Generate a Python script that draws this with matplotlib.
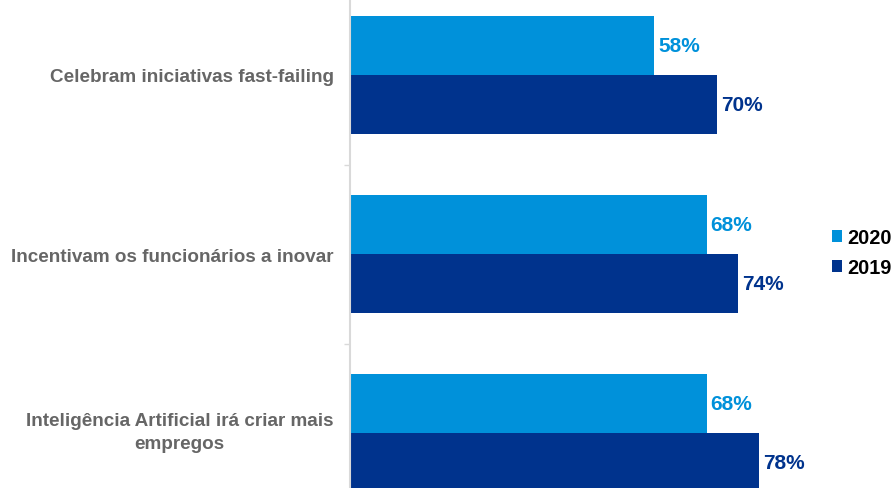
import matplotlib
matplotlib.use('Agg')
import matplotlib.pyplot as plt
import numpy as np

plt.rcParams['font.family'] = ['Liberation Sans', 'DejaVu Sans']

categories = ['Celebram iniciativas fast-failing',
              'Incentivam os funcionários a inovar',
              'Inteligência Artificial irá criar mais\nempregos']
v2020 = [58, 68, 68]
v2019 = [70, 74, 78]
series = ['2020', '2019']

c2020 = '#0091DA'
c2019 = '#00338D'
grey = '#666666'

W, H = 894, 489
fig = plt.figure(figsize=(W / 100, H / 100), dpi=100)
# the category band runs a little past the top and bottom of the canvas
ax = fig.add_axes([349.5 / W, (H - 523.5) / H, 525 / W, 537 / H])

y = np.arange(len(categories))
bh = 0.33
b1 = ax.barh(y - bh / 2, v2020, height=bh, color=c2020, label=series[0])
b2 = ax.barh(y + bh / 2, v2019, height=bh, color=c2019, label=series[1])

for bars, vals, col in [(b1, v2020, c2020), (b2, v2019, c2019)]:
    for rect, v in zip(bars, vals):
        ax.annotate('%d%%' % v, (v, rect.get_y() + rect.get_height() / 2),
                    xytext=(3, 0), textcoords='offset points',
                    ha='left', va='center', color=col,
                    fontsize=15, fontweight='bold')

ax.set_xlim(0, 100)
ax.set_ylim(len(categories) - 0.5, -0.5)
# two-line label sits a touch higher than its bars' centre
ax.set_yticks(y - np.array([0, 0, 0.034]))
ax.set_yticklabels(categories, fontsize=13.6, fontweight='bold', color=grey,
                   multialignment='center', linespacing=1.45)
ax.set_yticks([0.5, 1.5], minor=True)
ax.tick_params(axis='y', which='major', length=0, pad=11.5)
ax.tick_params(axis='y', which='minor', length=4, width=1, color='#d9d9d9')
ax.set_xticks([])
for s in ['top', 'right', 'bottom']:
    ax.spines[s].set_visible(False)
ax.spines['left'].set_color('#d9d9d9')
ax.spines['left'].set_linewidth(1.5)

leg = fig.legend(handles=[b1, b2], loc='center left',
                 bbox_to_anchor=(832 / W, 1 - 253.5 / H), frameon=False,
                 borderpad=0, borderaxespad=0, handlelength=0.5,
                 handleheight=0.5, handletextpad=0.25, labelspacing=0.55,
                 prop={'size': 14.3, 'weight': 'bold'})

fig.savefig('out.png', dpi=100)
